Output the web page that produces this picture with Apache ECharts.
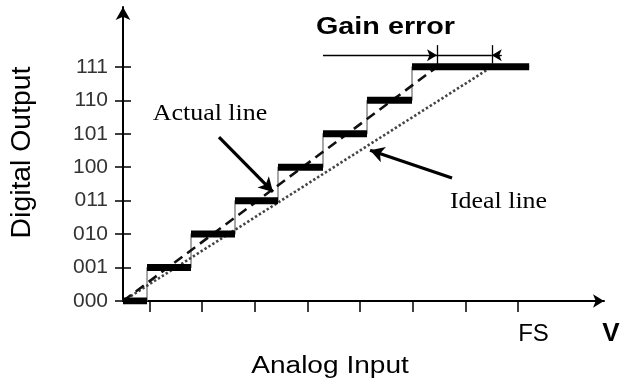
<!DOCTYPE html>
<html>
<head>
<meta charset="utf-8">
<script src="https://cdn.jsdelivr.net/npm/echarts@6/dist/echarts.min.js"></script>
<style>
html,body{margin:0;padding:0;background:#fff;}
#chart{width:621px;height:384px;}
</style>
</head>
<body>
<div id="chart"></div>
<script>
// ---- data (x in ideal-LSB units of analog input, y in output codes) ----
const codes = [0, 1, 2, 3, 4, 5, 6, 7];
const codeLabels = ['000', '001', '010', '011', '100', '101', '110', '111'];
// analog input where the actual converter output steps up to the next code
const transitions = [0.456, 1.291, 2.126, 2.942, 3.796, 4.632, 5.486];
const lastStepEnd = 7.71;
const xTicks = [0.5, 1.5, 2.5, 3.5, 4.5, 5.5, 6.5, 7.5];
const fsValue = 7.5;
const idealLine = [[0, 0], [7, 7]];
const actualLine = [[0, 0], [5.96, 7]];
// gain error dimension (x from actual to ideal full code)
const gainActualX = 5.96;
const gainIdealX = 7;
const gainArrowTail = 3.796;
const gainArrowTailRight = 7.19;
const gainLineY = 7.35;
const gainTickTop = 7.65;
// annotation arrows: [tail, head]
const actualArrow = [[1.822, 4.90], [2.847, 3.26]];
const idealArrow = [[6.245, 3.68], [4.69, 4.51]];
const xMax = 9.13;
const yMax = 8.79;

const chart = echarts.init(document.getElementById('chart'), null, {renderer: 'canvas'});

const sans = '"Liberation Sans", Arial, sans-serif';
const serif = '"Liberation Serif", "Times New Roman", serif';

// thick horizontal bars for each code
const barSeries = codes.map((c, k) => {
  const start = k === 0 ? 0 : transitions[k - 1];
  const end = k < transitions.length ? transitions[k] : lastStepEnd;
  return {
    type: 'line', silent: true, symbol: 'none', z: 5,
    data: [[start, c], [end, c]],
    lineStyle: {color: '#000', width: 7, cap: 'butt'}
  };
});

// thin staircase (risers)
const stairData = [[0, 0]];
transitions.forEach((t, k) => stairData.push([t, codes[k + 1]]));
stairData.push([lastStepEnd, codes[codes.length - 1]]);

const seg = (from, to, withArrow) => [
  {coord: from, symbol: 'none'},
  {coord: to, symbol: withArrow ? 'arrow' : 'none'}
];

const option = {
  animation: false,
  backgroundColor: '#fff',
  grid: {left: 123, right: 17, top: 7, bottom: 83},
  xAxis: {
    type: 'value', min: 0, max: xMax,
    axisLine: {show: true, lineStyle: {color: '#000', width: 2}, symbol: ['none', 'arrow'], symbolSize: [10, 11]},
    axisTick: {show: true, customValues: xTicks, length: 11, lineStyle: {color: '#000', width: 1.5}},
    axisLabel: {
      customValues: [fsValue], formatter: () => 'FS', align: 'left', margin: 21,
      fontSize: 24, fontFamily: sans, color: '#000'
    },
    splitLine: {show: false}
  },
  yAxis: [{
    type: 'value', min: 0, max: yMax, position: 'left',
    axisLine: {show: true, lineStyle: {color: '#000', width: 2}, symbol: ['none', 'arrow'], symbolSize: [11, 13]},
    axisTick: {show: true, customValues: codes, length: 8, lineStyle: {color: '#000', width: 1.5}},
    axisLabel: {
      customValues: codes, formatter: v => codeLabels[Math.round(v)], margin: 15,
      fontSize: 21, fontFamily: sans, color: '#333', padding: [0, 0, 4, 0]
    },
    splitLine: {show: false}
  }, {
    type: 'value', min: 0, max: yMax, position: 'left',
    axisLine: {show: false},
    axisTick: {show: true, inside: true, customValues: codes, length: 8, lineStyle: {color: '#000', width: 1.5}},
    axisLabel: {show: false},
    splitLine: {show: false}
  }],
  series: [
    {
      type: 'line', silent: true, symbol: 'none', step: 'end', z: 3,
      data: stairData,
      lineStyle: {color: '#777', width: 1.3}
    },
    {
      name: 'Ideal line', type: 'line', silent: true, symbol: 'none', z: 4,
      data: idealLine,
      lineStyle: {color: '#444', width: 2.6, type: [2.4, 2.2], cap: 'butt'}
    },
    {
      name: 'Actual line', type: 'line', silent: true, symbol: 'none', z: 4,
      data: actualLine,
      lineStyle: {color: '#111', width: 2.6, type: [10, 6]}
    },
    ...barSeries,
    {
      type: 'line', silent: true, symbol: 'none', data: [], z: 6,
      markLine: {
        silent: true, animation: false,
        symbolSize: [9, 10],
        label: {show: false},
        lineStyle: {color: '#000', width: 1.3, type: 'solid'},
        data: [
          seg([gainArrowTail, gainLineY], [gainActualX, gainLineY], true),
          seg([gainActualX, gainLineY], [gainIdealX, gainLineY], false),
          seg([gainArrowTailRight, gainLineY], [gainIdealX, gainLineY], true),
          seg([gainActualX, codes[7]], [gainActualX, gainTickTop], false),
          seg([gainIdealX, codes[7] + 0.1], [gainIdealX, gainTickTop], false)
        ]
      }
    },
    {
      type: 'line', silent: true, symbol: 'none', data: [], z: 6,
      markLine: {
        silent: true, animation: false,
        symbolSize: [12, 14],
        label: {show: false},
        lineStyle: {color: '#000', width: 3.2, type: 'solid'},
        data: [seg(actualArrow[0], actualArrow[1], true), seg(idealArrow[0], idealArrow[1], true)]
      }
    }
  ],
  graphic: [
    {type: 'text', x: 385.5, y: 27.4, scaleX: 1.25, silent: true,
      style: {text: 'Gain error', font: 'bold 23px ' + sans, fill: '#000', align: 'center', verticalAlign: 'middle'}},
    {type: 'text', x: 210, y: 113.5, scaleX: 1.08, silent: true,
      style: {text: 'Actual line', font: '24px ' + serif, fill: '#000', align: 'center', verticalAlign: 'middle'}},
    {type: 'text', x: 498.5, y: 202, scaleX: 1.08, silent: true,
      style: {text: 'Ideal line', font: '24px ' + serif, fill: '#000', align: 'center', verticalAlign: 'middle'}},
    {type: 'text', x: 23, y: 152.5, rotation: Math.PI / 2, scaleX: 1.05, silent: true,
      style: {text: 'Digital Output', font: '27px ' + sans, fill: '#000', align: 'center', verticalAlign: 'middle'}},
    {type: 'text', x: 330, y: 366.5, scaleX: 1.22, silent: true,
      style: {text: 'Analog Input', font: '23px ' + sans, fill: '#000', align: 'center', verticalAlign: 'middle'}},
    {type: 'text', x: 611, y: 334, silent: true,
      style: {text: 'V', font: 'bold 26px ' + sans, fill: '#000', align: 'center', verticalAlign: 'middle'}}
  ]
};

chart.setOption(option);
</script>
</body>
</html>
